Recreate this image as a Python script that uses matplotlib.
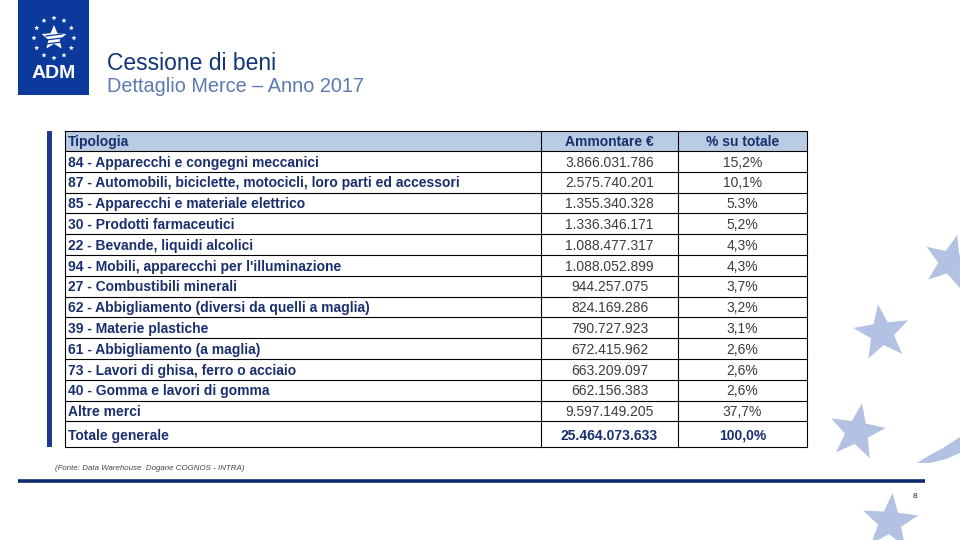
import numpy as np
import matplotlib
matplotlib.use("Agg")
import matplotlib.pyplot as plt
from matplotlib.patches import Rectangle, Polygon

# ---------------- data ----------------
categories = [
    "84 - Apparecchi e congegni meccanici",
    "87 - Automobili, biciclette, motocicli, loro parti ed accessori",
    "85 - Apparecchi e materiale elettrico",
    "30 - Prodotti farmaceutici",
    "22 - Bevande, liquidi alcolici",
    "94 - Mobili, apparecchi per l'illuminazione",
    "27 - Combustibili minerali",
    "62 - Abbigliamento (diversi da quelli a maglia)",
    "39 - Materie plastiche",
    "61 - Abbigliamento (a maglia)",
    "73 - Lavori di ghisa, ferro o acciaio",
    "40 - Gomma e lavori di gomma",
    "Altre merci",
]
amounts = ["3.866.031.786", "2.575.740.201", "1.355.340.328", "1.336.346.171",
           "1.088.477.317", "1.088.052.899", "944.257.075", "824.169.286",
           "790.727.923", "672.415.962", "663.209.097", "662.156.383",
           "9.597.149.205"]
shares = ["15,2%", "10,1%", "5.3%", "5,2%", "4,3%", "4,3%", "3,7%", "3,2%",
          "3,1%", "2,6%", "2,6%", "2,6%", "37,7%"]
headers = ["Tipologia", "Ammontare €", "% su totale"]
total_row = ["Totale generale", "25.464.073.633", "100,0%"]

title = "Cessione di beni"
subtitle = "Dettaglio Merce – Anno 2017"
source = "(Fonte: Data Warehouse  Dogane COGNOS - INTRA)"
page = "8"

# ---------------- style ----------------
FONT = "Liberation Sans"
NAVY = "#1a2f6e"
LOGO = "#0c3a9c"
STAR = "#b3c2e2"
HEAD = "#b8cce4"
FS = 10
DY = 1.2

fig = plt.figure(figsize=(9.6, 5.4), dpi=100)
ax = fig.add_axes([0, 0, 1, 1])
ax.set_xlim(0, 960)
ax.set_ylim(540, 0)
ax.axis("off")


def star(cx, cy, r, ang=0.0, color=STAR, inner=0.42, z=1):
    pts = []
    for k in range(10):
        rr = r if k % 2 == 0 else r * inner
        a = np.deg2rad(ang - 90 + k * 36)
        pts.append((cx + rr * np.cos(a), cy + rr * np.sin(a)))
    ax.add_patch(Polygon(pts, closed=True, color=color, lw=0, zorder=z))


# decorative stars (right side)
star(950, 262, 28, 15)
star(882, 333, 29, -8)
star(857, 432, 29, 10)
star(890, 522, 29, 5)
ax.add_patch(Polygon([(917, 463), (928, 456), (943, 448), (960, 437), (960, 453),
                      (946, 459), (930, 463)], closed=True, color=STAR, lw=0))

# logo
ax.add_patch(Rectangle((18, 0), 71, 95, color=LOGO, lw=0))
for k in range(12):
    a = np.deg2rad(-90 + k * 30)
    star(54 + 20 * np.cos(a), 38 + 20 * np.sin(a), 2.6, 0, color="white", inner=0.45, z=3)
star(54, 38, 13, 0, color="white", inner=0.45, z=3)
for yy in (36, 40, 44):
    ax.plot([46, 62], [yy, yy - 2], color=LOGO, lw=0.9, zorder=4)
ax.text(54, 74, "ADM", color="white", fontsize=14, fontweight="bold",
        family=FONT, ha="center", va="center")

# titles
ax.text(107, 63, title, color="#123577", fontsize=16.5, family=FONT,
        ha="left", va="center")
ax.text(107, 87, subtitle, color="#5b79b2", fontsize=14.3, family=FONT,
        ha="left", va="center")

# table geometry
x0, x1, x2, x3 = 65, 541, 678, 807
top = 131
head_h = 20
row_h = 20.8
tot_h = 26
n = len(categories)

# left accent bar
ax.add_patch(Rectangle((47, top), 5, head_h + n * row_h + tot_h, color="#1c3a8c", lw=0))

# header
ax.add_patch(Rectangle((x0, top), x3 - x0, head_h, facecolor=HEAD, edgecolor="none"))
cols_c = [None, (x1 + x2) / 2, (x2 + x3) / 2]
yc = top + head_h / 2 + DY
ax.text(x0 + 3, yc, headers[0], color=NAVY, fontsize=FS, fontweight="bold",
        family=FONT, ha="left", va="center")
ax.text(cols_c[1], yc, headers[1], color=NAVY, fontsize=FS, fontweight="bold",
        family=FONT, ha="center", va="center")
ax.text(cols_c[2], yc, headers[2], color=NAVY, fontsize=FS, fontweight="bold",
        family=FONT, ha="center", va="center")

# rows
for i, (c, a, s) in enumerate(zip(categories, amounts, shares)):
    y = top + head_h + i * row_h
    yc = y + row_h / 2 + DY
    ax.text(x0 + 3, yc, c, color=NAVY, fontsize=FS, fontweight="bold",
            family=FONT, ha="left", va="center")
    ax.text(cols_c[1], yc, a, color="#3c3c3c", fontsize=FS, family=FONT,
            ha="center", va="center")
    ax.text(cols_c[2], yc, s, color="#3c3c3c", fontsize=FS, family=FONT,
            ha="center", va="center")

ytot = top + head_h + n * row_h
yc = ytot + tot_h / 2 + DY
ax.text(x0 + 3, yc, total_row[0], color=NAVY, fontsize=FS, fontweight="bold",
        family=FONT, ha="left", va="center")
ax.text(cols_c[1], yc, total_row[1], color=NAVY, fontsize=FS, fontweight="bold",
        family=FONT, ha="center", va="center")
ax.text(cols_c[2], yc, total_row[2], color=NAVY, fontsize=FS, fontweight="bold",
        family=FONT, ha="center", va="center")

# grid lines
bottom = ytot + tot_h
hl = [top, top + head_h] + [top + head_h + (i + 1) * row_h for i in range(n)] + [bottom]
for y in hl:
    ax.plot([x0, x3], [y, y], color="black", lw=0.8, zorder=5)
for x in (x0, x1, x2, x3):
    ax.plot([x, x], [top, bottom], color="black", lw=0.8, zorder=5)

# footnote & bottom rule
ax.text(55, 469, source, color="#444444", fontsize=5.7, style="italic",
        family=FONT, ha="left", va="center")
ax.plot([18, 925], [481, 481], color="#0d2b6e", lw=2.6, solid_capstyle="butt")
ax.text(915, 496, page, color="#222222", fontsize=6, family=FONT,
        ha="center", va="center")

fig.savefig("out.png", dpi=100)
